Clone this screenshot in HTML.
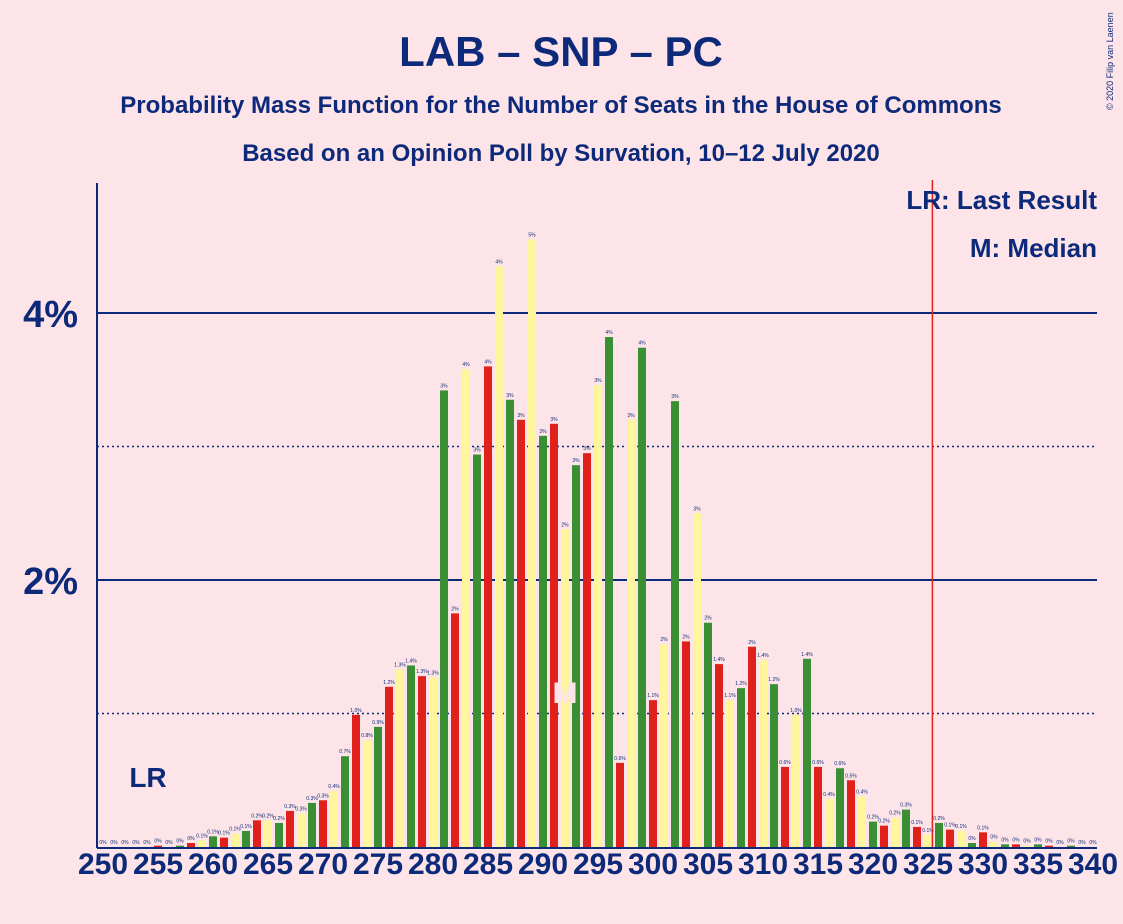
<!DOCTYPE html>
<html><head><meta charset="utf-8">
<style>
body{margin:0;background:#fde4e8;}
svg{display:block;font-family:"Liberation Sans",sans-serif;}
</style></head>
<body>
<svg id="chart" width="1123" height="924" viewBox="0 0 1123 924">
<rect width="1123" height="924" fill="#fde4e8"/>
<text x="561" y="66" text-anchor="middle" font-size="42" font-weight="bold" fill="#0d2a7a">LAB – SNP – PC</text>
<text x="561" y="113" text-anchor="middle" font-size="24" font-weight="bold" fill="#0d2a7a">Probability Mass Function for the Number of Seats in the House of Commons</text>
<text x="561" y="161" text-anchor="middle" font-size="24" font-weight="bold" fill="#0d2a7a">Based on an Opinion Poll by Survation, 10–12 July 2020</text>
<text x="1113" y="110" transform="rotate(-90 1113 110)" font-size="9" fill="#0d2a7a">© 2020 Filip van Laenen</text>
<g id="grid"></g>
<g id="bars"></g>
<g id="axes"></g>
<text x="1097" y="209" text-anchor="end" font-size="26" font-weight="bold" fill="#0d2a7a">LR: Last Result</text>
<text x="1097" y="257" text-anchor="end" font-size="26" font-weight="bold" fill="#0d2a7a">M: Median</text>
</svg>
<script>
const seats=[];for(let s=250;s<=340;s++)seats.push(s);
const probs=[0,0,0,0,0,0.01,0,0.01,0.03,0.05,0.08,0.07,0.1,0.12,0.2,0.2,0.18,0.27,0.25,0.33,0.35,0.42,0.68,0.99,0.8,0.9,1.2,1.33,1.36,1.28,1.27,3.42,1.75,3.58,2.94,3.6,4.35,3.35,3.2,4.55,3.08,3.17,2.38,2.86,2.95,3.46,3.82,0.63,3.2,3.74,1.1,1.52,3.34,1.54,2.5,1.68,1.37,1.1,1.19,1.5,1.4,1.22,0.6,0.99,1.41,0.6,0.36,0.59,0.5,0.38,0.19,0.16,0.22,0.28,0.15,0.09,0.18,0.13,0.12,0.03,0.11,0.04,0.02,0.02,0.01,0.02,0.01,0,0.01,0,0];
const yTicks=[2,4];
const yMinor=[1,3];
const xTicks=[250,255,260,265,270,275,280,285,290,295,300,305,310,315,320,325,330,335,340];
const lastResult=325.4;
const median=292;
const NS="http://www.w3.org/2000/svg";
const x=s=>103+(s-250)*11;
const y=v=>847-v*133.5;
function mk(tag,attrs,parent){const e=document.createElementNS(NS,tag);for(const k in attrs)e.setAttribute(k,attrs[k]);document.getElementById(parent).appendChild(e);return e;}
yMinor.forEach(v=>{const l=mk('line',{x1:97,x2:1097,y1:y(v),y2:y(v),stroke:'#0d2a7a','stroke-width':1.5,'stroke-dasharray':'2,3'},'grid');

});
yTicks.forEach(v=>{const l=mk('line',{x1:97,x2:1097,y1:y(v),y2:y(v),stroke:'#0d2a7a','stroke-width':2},'grid');


const t=mk('text',{x:78,y:y(v)+14,'text-anchor':'end','font-size':38,'font-weight':'bold',fill:'#0d2a7a'},'axes');t.textContent=v+'%';

});
const colors=['#e0201b','#fff59d','#3a8f35'];
seats.forEach((s,i)=>{const v=probs[i];const c=colors[((s%3)+3)%3];
const r=mk('rect',{x:x(s)-4,y:y(v),width:8,height:Math.max(0,847-y(v)),fill:c},'bars');


const lab=v>=1.5?Math.round(v)+'%':(v<0.05?'0%':v.toFixed(1)+'%');
const t=mk('text',{x:x(s),y:y(v)-3,'text-anchor':'middle','font-size':5,fill:'#0d2a7a'},'bars');t.textContent=lab;

});
const ml=mk('text',{x:x(median),y:703,'text-anchor':'middle','font-size':30,'font-weight':'bold',fill:'#fde4e8'},'bars');ml.textContent='M';


const lr=mk('line',{x1:x(lastResult),x2:x(lastResult),y1:180,y2:847,stroke:'#e0201b','stroke-width':1.5},'axes');


const lrt=mk('text',{x:148,y:787,'text-anchor':'middle','font-size':28,'font-weight':'bold',fill:'#0d2a7a'},'axes');lrt.textContent='LR';


const ax=mk('line',{x1:97,x2:97,y1:183,y2:848,stroke:'#0d2a7a','stroke-width':2},'axes');


const bx=mk('line',{x1:97,x2:1097,y1:848,y2:848,stroke:'#0d2a7a','stroke-width':2},'axes');


xTicks.forEach(s=>{const t=mk('text',{x:x(s),y:874,'text-anchor':'middle','font-size':30,'font-weight':'bold',fill:'#0d2a7a'},'axes');t.textContent=s;

});
</script>
</body></html>
